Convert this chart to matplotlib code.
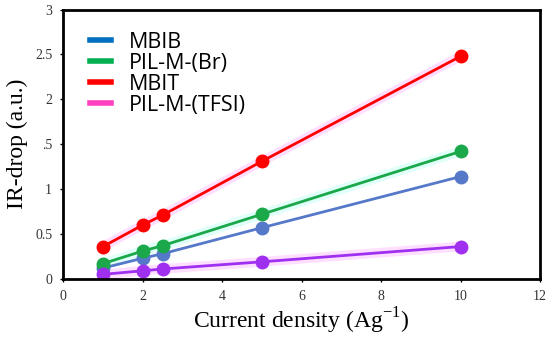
import matplotlib
matplotlib.use('Agg')
import matplotlib.pyplot as plt
from matplotlib.lines import Line2D

plt.rcParams['mathtext.fontset'] = 'custom'
plt.rcParams['mathtext.rm'] = 'Liberation Serif'

# current density (A/g)
current = [1, 2, 2.5, 5, 10]

# IR-drop values
mbit = [0.36, 0.60, 0.71, 1.31, 2.48]
pil_br = [0.17, 0.31, 0.37, 0.72, 1.42]
mbib = [0.12, 0.23, 0.28, 0.57, 1.14]
pil_tfsi = [0.05, 0.09, 0.11, 0.19, 0.36]

legend_names = ['MBIB', 'PIL-M-(Br)', 'MBIT', 'PIL-M-(TFSI)']
legend_colors = ['#0070c0', '#00b050', '#ff0000', '#ff40c0']

xticks = [0, 2, 4, 6, 8, 10, 12]
yticks = [0, 0.5, 1, 1.5, 2, 2.5, 3]
ytick_labels = ['0', '0.5', '1', '.5', '2', '2.5', '3']

fig = plt.figure(figsize=(5.5, 3.43), dpi=100)
ax = fig.add_axes([0.115, 0.187, 0.867, 0.785])

# faint glow under some lines, like in the original picture
ax.plot(current, mbit, color='#ff80ff', lw=7, alpha=0.25, solid_capstyle='round')
ax.plot(current, pil_br, color='#60ffe0', lw=7, alpha=0.2, solid_capstyle='round')
ax.plot(current, pil_tfsi, color='#ff80ff', lw=7, alpha=0.25, solid_capstyle='round')

ax.plot(current, mbib, color='#5578c8', lw=2, marker='o', ms=9)
ax.plot(current, pil_br, color='#1aa84a', lw=2, marker='o', ms=9)
ax.plot(current, mbit, color='#ff0000', lw=2, marker='o', ms=9)
ax.plot(current, pil_tfsi, color='#a030f0', lw=2, marker='o', ms=9)

ax.set_xlim(0, 12)
ax.set_ylim(0, 3)
ax.set_xticks(xticks)
ax.set_yticks(yticks)
ax.set_yticklabels(ytick_labels)
for lab in ax.get_xticklabels() + ax.get_yticklabels():
    lab.set_fontfamily('Liberation Serif')
    lab.set_fontsize(10)
    lab.set_color('#333333')
ax.tick_params(length=2, width=1, pad=6)

for s in ax.spines.values():
    s.set_linewidth(2)
    s.set_color('black')

ax.set_xlabel('Current density (Ag$^{\\mathrm{-1}}$)', fontfamily='Liberation Serif',
              fontsize=17, labelpad=2)
ax.set_ylabel('IR-drop (a.u.)', fontfamily='Liberation Serif', fontsize=17, labelpad=5)

handles = [Line2D([0], [0], color=c, lw=4) for c in legend_colors]
ax.legend(handles, legend_names, loc='upper left', bbox_to_anchor=(0.015, 0.99),
          frameon=False, handlelength=1.0, handletextpad=0.8, labelspacing=0.0,
          prop={'family': 'Open Sans', 'size': 15.5})

fig.savefig('out.png', dpi=100)
